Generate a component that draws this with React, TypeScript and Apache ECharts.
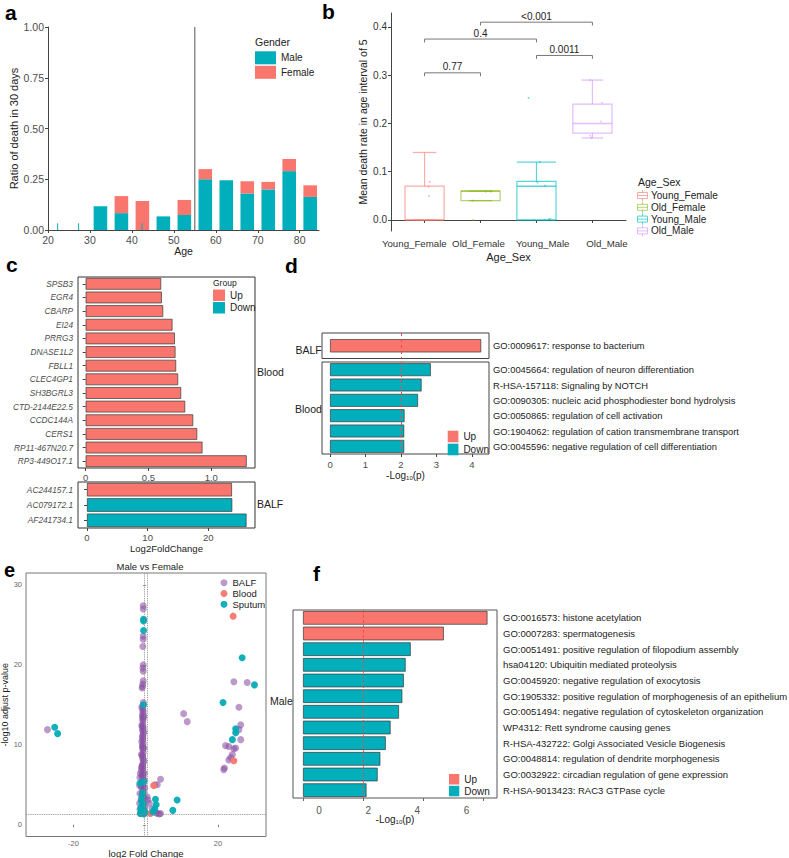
import React, { useEffect, useRef } from 'react';
import * as echarts from 'echarts';

const FONT = '"Liberation Sans", Arial, Helvetica, sans-serif';
const TEAL = '#00AFBB';
const SALMON = '#F8766D';
const AXIS = '#444444';
const TICKTXT = '#4D4D4D';

// ---------------- Panel a ----------------
const ageBins = [32.5, 37.5, 42.5, 47.5, 52.5, 57.5, 62.5, 67.5, 72.5, 77.5, 82.5];
const maleRatio = [0.117, 0.083, 0, 0.067, 0.074, 0.25, 0.245, 0.18, 0.2, 0.29, 0.163];
const femaleRatio = [0, 0.084, 0.143, 0, 0.074, 0.05, 0, 0.06, 0.037, 0.06, 0.057];
const minorAges = [22.3, 27.3, 42.4];
const minorMale = [0.033, 0.033, 0.033];
const ageCut = 55;
const ageTicks = [20, 30, 40, 50, 60, 70, 80];
const ratioTicks = [0, 0.25, 0.5, 0.75, 1];

// ---------------- Panel b ----------------
const ageSexGroups = ['Young_Female', 'Old_Female', 'Young_Male', 'Old_Male'];
const boxMin = [0, 0.04, 0, 0.17];
const boxQ1 = [0, 0.04, 0, 0.18];
const boxMedian = [0, 0.06, 0.07, 0.2];
const boxQ3 = [0.07, 0.06, 0.08, 0.24];
const boxMax = [0.14, 0.06, 0.12, 0.29];
const jitterGroup = [0, 0, 0, 0, 0, 1, 1, 1, 1, 2, 2, 2, 2, 2, 2, 2, 2, 3, 3, 3, 3, 3];
const jitterOffset = [0.09, 0.07, 0.08, -0.11, -0.03, 0.09, 0.18, -0.14, -0.13, 0.06, 0.02, 0.15, -0.05, 0.15, 0.22, 0.25, -0.14, -0.04, 0.17, 0.155, -0.04, -0.02];
const jitterValue = [0.079, 0.069, 0.05, 0, 0, 0.059, 0.059, 0.04, 0, 0.12, 0.078, 0.071, 0, 0, 0.002, 0.002, 0.253, 0.29, 0.243, 0.204, 0.175, 0.17];
const compStart = [1, 1, 3, 2];
const compEnd = [2, 3, 4, 4];
const compY = [0.305, 0.375, 0.341, 0.41];
const compLabel = ['0.77', '0.4', '0.0011', '<0.001'];
const rateTicks = [0, 0.1, 0.2, 0.3, 0.4];
const groupTicks = [1, 2, 3, 4];

// ---------------- Panel c ----------------
const bloodGenes = ['SPSB3', 'EGR4', 'CBARP', 'EI24', 'PRRG3', 'DNASE1L2', 'FBLL1', 'CLEC4GP1', 'SH3BGRL3', 'CTD-2144E22.5', 'CCDC144A', 'CERS1', 'RP11-467N20.7', 'RP3-449O17.1'];
const bloodLog2FC = [0.601, 0.606, 0.617, 0.691, 0.71, 0.715, 0.72, 0.736, 0.76, 0.792, 0.856, 0.888, 0.93, 1.282];
const bloodGeneGroup = ['Up', 'Up', 'Up', 'Up', 'Up', 'Up', 'Up', 'Up', 'Up', 'Up', 'Up', 'Up', 'Up', 'Up'];
const balfGenes = ['AC244157.1', 'AC079172.1', 'AF241734.1'];
const balfLog2FC = [23.9, 23.95, 26.3];
const balfGeneGroup = ['Up', 'Down', 'Down'];
const fcTicksTop = [0, 0.5, 1.0];
const fcTicksBottom = [0, 10, 20];

// ---------------- Panel d ----------------
const dBalfTerms = ['GO:0009617: response to bacterium'];
const dBalfLogP = [4.26];
const dBalfGroup = ['Up'];
const dBloodTerms = [
  'GO:0045664: regulation of neuron differentiation',
  'R-HSA-157118: Signaling by NOTCH',
  'GO:0090305: nucleic acid phosphodiester bond hydrolysis',
  'GO:0050865: regulation of cell activation',
  'GO:1904062: regulation of cation transmembrane transport',
  'GO:0045596: negative regulation of cell differentiation',
];
const dBloodLogP = [2.84, 2.58, 2.48, 2.1, 2.09, 2.09];
const dBloodGroup = ['Down', 'Down', 'Down', 'Down', 'Down', 'Down'];
const dTicks = [0, 1, 2, 3, 4];
const pCutoff = 2;

// ---------------- Panel e ----------------
const balfPoints = [
  [-27.2, 11.9],
  [-0.7, 27.4], [-0.7, 27.0], [-0.7, 23.6], [-0.7, 23.2], [-0.8, 22.3], [-0.7, 20.0], [-0.8, 19.6], [-0.7, 19.2], [-0.7, 18.0], [-0.8, 17.6], [-0.9, 17.3], [-1.0, 17.1],
  [-0.7, 15.3], [-0.8, 14.9], [-0.8, 14.5], [-0.7, 14.1], [-0.9, 13.8], [-0.7, 13.4], [-0.8, 13.0], [-0.8, 12.6], [-0.7, 12.2], [-0.9, 11.8], [-0.7, 11.4], [-0.8, 11.0],
  [-0.8, 10.6], [-0.7, 10.2], [-0.9, 9.8], [-0.8, 9.4], [-0.7, 9.0], [-0.9, 8.6], [-0.8, 8.2], [-0.7, 7.8], [-0.9, 7.4], [-0.8, 7.0], [-1.2, 6.8], [-0.7, 6.6], [-1.5, 6.4],
  [-0.9, 6.2], [-0.8, 5.8], [-1.0, 5.4], [-0.7, 5.0], [-1.2, 4.7], [-0.8, 4.4], [-0.6, 4.1], [-1.0, 3.8], [-0.7, 3.5], [-1.3, 3.2], [-0.8, 2.9], [-0.6, 2.6], [-1.1, 2.3],
  [-0.7, 2.0], [-0.9, 1.7], [-0.6, 1.5], [-1.4, 1.4],
  [-1.1, 14.7], [-0.5, 13.6], [-1.1, 12.4], [-0.5, 11.6], [-1.1, 10.4], [-0.5, 9.6], [-1.2, 8.8], [-0.5, 8.0], [-1.2, 7.2], [-0.4, 6.4],
  [-1.6, 5.9], [-0.4, 5.6], [-1.7, 4.9], [-0.3, 4.6], [-1.6, 3.9], [-0.3, 3.3], [-1.7, 2.7], [-0.2, 2.2], [-1.6, 1.9], [-0.2, 1.5],
  [-0.8, 14.3], [-0.8, 13.2], [-0.8, 12.0], [-0.8, 10.8], [-0.8, 9.6], [-0.8, 8.4], [-0.8, 7.2], [-0.8, 6.0], [-0.8, 4.8], [-0.8, 3.6], [-0.8, 2.4],
  [-0.9, 13.5], [-0.9, 12.3], [-0.9, 11.1], [-0.9, 9.9], [-0.9, 8.7], [-0.9, 7.5], [-0.9, 6.3], [-0.9, 5.1], [-0.9, 3.9], [-0.9, 2.7], [-0.9, 1.6],
  [0.4, 3.5], [0.6, 3.1], [1.0, 2.7], [1.8, 2.0], [2.2, 1.7], [2.9, 1.5], [3.2, 1.4], [3.8, 1.35], [4.1, 1.4], [2.5, 5.0], [3.2, 5.0], [4.1, 5.7],
  [10.5, 13.9], [11.5, 12.9],
  [24.4, 17.9], [28.1, 17.8], [25.8, 14.7], [26.3, 12.5], [25.8, 11.9], [26.3, 10.65], [24.9, 9.6], [24.4, 9.5], [22.1, 9.9], [23.0, 9.8], [24.0, 8.8], [23.5, 8.4],
  [23.0, 8.1], [21.8, 7.1], [21.6, 6.9],
];
const bloodPoints = [[24.2, 26.1], [24.4, 8.0], [2.2, 4.9], [1.3, 1.4]];
const sputumPoints = [
  [-25.2, 12.2], [-24.4, 11.4],
  [-0.6, 25.7], [-0.6, 25.5], [-0.6, 24.3], [-0.6, 15.0], [-1.6, 5.2], [-0.5, 5.4], [-0.8, 4.0], [-1.0, 3.5], [-1.2, 3.0], [-0.7, 2.7], [-1.0, 2.4], [-1.4, 2.1],
  [-0.6, 1.9], [-1.1, 1.7], [-0.8, 1.5], [-0.5, 1.35], [-1.5, 1.4], [-0.2, 1.6],
  [2.7, 3.2], [2.9, 2.5], [2.5, 2.0], [2.0, 1.6], [8.7, 3.1], [7.5, 1.8],
  [26.7, 20.9], [30.1, 17.5], [21.4, 15.3], [24.9, 12.0], [24.9, 11.5], [24.0, 10.65],
];
const fcCut = [-0.5, 0.5];
const padjCut = 1.3;
const eXTicks = [-20, 20];
const eYTicks = [0, 10, 20, 30];

// ---------------- Panel f ----------------
const maleTerms = [
  'GO:0016573: histone acetylation',
  'GO:0007283: spermatogenesis',
  'GO:0051491: positive regulation of filopodium assembly',
  'hsa04120: Ubiquitin mediated proteolysis',
  'GO:0045920: negative regulation of exocytosis',
  'GO:1905332: positive regulation of morphogenesis of an epithelium',
  'GO:0051494: negative regulation of cytoskeleton organization',
  'WP4312: Rett syndrome causing genes',
  'R-HSA-432722: Golgi Associated Vesicle Biogenesis',
  'GO:0048814: regulation of dendrite morphogenesis',
  'GO:0032922: circadian regulation of gene expression',
  'R-HSA-9013423: RAC3 GTPase cycle',
];
const maleLogP = [6.13, 4.68, 3.58, 3.41, 3.35, 3.3, 3.19, 2.91, 2.75, 2.57, 2.48, 2.11];
const maleGroup = ['Up', 'Up', 'Down', 'Down', 'Down', 'Down', 'Down', 'Down', 'Down', 'Down', 'Down', 'Down'];
const fTicks = [0, 2, 4, 6];

// ---------------- helpers ----------------
const boxColors = ['rgba(248,118,109,0.6)', 'rgba(124,174,0,0.55)', 'rgba(0,191,196,0.65)', 'rgba(199,124,255,0.5)'];
const capFrac = [0.6, 0.6, 1.0, 0.55];
const BAR_HALF = 1.62;

const txt = (size: number, color = TICKTXT, extra: any = {}) => ({ fontSize: size, color, fontFamily: FONT, ...extra });
const pick = (vals: number[], groups: string[], g: string) => vals.map((v, i) => (groups[i] === g ? v : '-'));
const logpName = {
  name: '{a|-Log}{b|10}{a|(p)}',
  nameLocation: 'middle',
  nameTextStyle: {
    rich: {
      a: { fontSize: 10, color: '#222', fontFamily: FONT },
      b: { fontSize: 6, color: '#222', fontFamily: FONT, padding: [5, 0, 0, 0] },
    },
  },
};

function label(text: string, x: number, y: number, size: number, opts: any = {}) {
  return {
    type: 'text',
    x,
    y,
    style: {
      text,
      fill: opts.fill || '#222',
      font: `${opts.weight || 'normal'} ${size}px ${FONT}`,
      textAlign: opts.align || 'left',
      textVerticalAlign: 'middle',
      align: opts.align || 'left',
      verticalAlign: 'middle',
    },
    silent: true,
  };
}

function buildOption(): any {
  const gb = { outerBoundsMode: 'none', containLabel: false };
  const grids = [
    { ...gb, left: 48, top: 27, width: 271, height: 203 }, // a
    { ...gb, left: 391, top: 13, width: 235, height: 218 }, // b
    { ...gb, left: 78, top: 277, width: 177, height: 191, show: true, borderColor: '#333', borderWidth: 1 }, // c top
    { ...gb, left: 78, top: 482, width: 177, height: 46, show: true, borderColor: '#333', borderWidth: 1 }, // c bottom
    { ...gb, left: 322, top: 333, width: 167, height: 25.5, show: true, borderColor: '#444', borderWidth: 1 }, // d BALF
    { ...gb, left: 322, top: 362, width: 167, height: 92, show: true, borderColor: '#444', borderWidth: 1 }, // d Blood
    { ...gb, left: 26, top: 573, width: 240, height: 263.5, show: true, borderColor: '#777', borderWidth: 1 }, // e
    { ...gb, left: 293, top: 610, width: 204, height: 188, show: true, borderColor: '#555', borderWidth: 1 }, // f
  ];

  const noSplit = { show: false };
  const xAxis: any[] = [
    {
      gridIndex: 0, type: 'value', min: 20, max: 84.6, splitLine: noSplit,
      axisLine: { show: true, lineStyle: { color: AXIS } },
      axisTick: { show: true, customValues: ageTicks, length: 3, lineStyle: { color: AXIS } },
      axisLabel: { customValues: ageTicks, margin: 4, ...txt(10.5) },
      name: 'Age', nameLocation: 'middle', nameGap: 14, nameTextStyle: txt(10.5, '#222'),
    },
    {
      gridIndex: 1, type: 'value', min: 0.4, max: 4.6, splitLine: noSplit,
      axisLine: { show: true, lineStyle: { color: AXIS } },
      axisTick: { show: true, customValues: groupTicks, length: 3, lineStyle: { color: AXIS } },
      axisLabel: { show: false },
      name: 'Age_Sex', nameLocation: 'middle', nameGap: 20, nameTextStyle: txt(11, '#222'),
    },
    {
      // label track for panel b (labels sit slightly spread relative to the ticks, as in the figure)
      gridIndex: 1, type: 'value', position: 'bottom', min: 0.637, max: 4.297, splitLine: noSplit,
      axisLine: { show: false }, axisTick: { show: false },
      axisLabel: {
        customValues: groupTicks, margin: 7, showMinLabel: true, showMaxLabel: true, hideOverlap: false,
        formatter: (v: number) => ageSexGroups[Math.round(v) - 1] || '', ...txt(9.7, '#333'),
      },
    },
    {
      gridIndex: 2, type: 'value', min: -0.061, max: 1.348, splitLine: noSplit,
      axisLine: { show: false },
      axisTick: { show: true, customValues: fcTicksTop, length: 3, lineStyle: { color: AXIS } },
      axisLabel: { customValues: fcTicksTop, margin: 4, formatter: (v: number) => (v === 0 ? '0' : v.toFixed(1)), ...txt(9.5) },
    },
    {
      gridIndex: 3, type: 'value', min: -1.48, max: 27.7, splitLine: noSplit,
      axisLine: { show: false },
      axisTick: { show: true, customValues: fcTicksBottom, length: 3, lineStyle: { color: AXIS } },
      axisLabel: { customValues: fcTicksBottom, margin: 4, ...txt(9.5) },
      name: 'Log2FoldChange', nameLocation: 'middle', nameGap: 15, nameTextStyle: txt(9.5, '#222'),
    },
    {
      gridIndex: 4, type: 'value', min: -0.226, max: 4.48, splitLine: noSplit,
      axisLine: { show: false }, axisTick: { show: false }, axisLabel: { show: false },
    },
    {
      gridIndex: 5, type: 'value', min: -0.226, max: 4.48, splitLine: noSplit,
      axisLine: { show: false },
      axisTick: { show: true, customValues: dTicks, length: 3, lineStyle: { color: AXIS } },
      axisLabel: { customValues: dTicks, margin: 5, ...txt(9.5) },
      ...logpName, nameGap: 16,
    },
    {
      gridIndex: 6, type: 'value', min: -33.15, max: 33.3, splitLine: noSplit,
      axisLine: { show: false },
      axisTick: { show: true, customValues: eXTicks, length: 2.5, lineStyle: { color: '#777' } },
      axisLabel: { customValues: eXTicks, margin: 3, ...txt(7.5, '#666') },
      name: 'log2 Fold Change', nameLocation: 'middle', nameGap: 10, nameTextStyle: txt(9.5, '#222'),
    },
    {
      gridIndex: 7, type: 'value', position: 'bottom', min: -0.333, max: 6.447, splitLine: noSplit,
      axisLine: { show: false },
      axisTick: { show: true, customValues: fTicks, length: 3, lineStyle: { color: '#666' } },
      axisLabel: { show: false },
      ...logpName, nameGap: 16,
    },
    {
      gridIndex: 7, type: 'value', position: 'bottom', offset: 0, min: -1.06, max: 7.24, splitLine: noSplit,
      axisLine: { show: false }, axisTick: { show: false },
      axisLabel: { customValues: fTicks, margin: 7, ...txt(10, '#555') },
    },
  ];

  const yAxis: any[] = [
    {
      gridIndex: 0, type: 'value', min: 0, max: 1, splitLine: noSplit,
      axisLine: { show: true, lineStyle: { color: AXIS } },
      axisTick: { show: true, customValues: ratioTicks, length: 3, lineStyle: { color: AXIS } },
      axisLabel: { customValues: ratioTicks, margin: 4, formatter: (v: number) => v.toFixed(2), ...txt(10.5) },
      name: 'Ratio of death in 30 days', nameLocation: 'middle', nameGap: 27, nameTextStyle: txt(11, '#222'),
    },
    {
      gridIndex: 1, type: 'value', min: -0.0228, max: 0.429, splitLine: noSplit,
      axisLine: { show: true, lineStyle: { color: AXIS } },
      axisTick: { show: true, customValues: rateTicks, length: 3, lineStyle: { color: AXIS } },
      axisLabel: { customValues: rateTicks, margin: 4, formatter: (v: number) => v.toFixed(1), ...txt(10, '#333') },
      name: 'Mean death rate in age interval of 5', nameLocation: 'middle', nameGap: 23, nameTextStyle: txt(10.5, '#222'),
    },
    {
      gridIndex: 2, type: 'category', inverse: true, data: bloodGenes,
      axisLine: { show: false },
      axisTick: { show: true, alignWithLabel: true, length: 3, lineStyle: { color: AXIS } },
      axisLabel: { margin: 5, interval: 0, ...txt(8.3, TICKTXT, { fontStyle: 'italic' }) },
    },
    {
      gridIndex: 3, type: 'category', inverse: true, data: balfGenes,
      axisLine: { show: false },
      axisTick: { show: true, alignWithLabel: true, length: 3, lineStyle: { color: AXIS } },
      axisLabel: { margin: 5, interval: 0, ...txt(8.3, TICKTXT, { fontStyle: 'italic' }) },
    },
    {
      gridIndex: 4, type: 'category', inverse: true, data: dBalfTerms, position: 'right',
      axisLine: { show: false }, axisTick: { show: false },
      axisLabel: { margin: 4, interval: 0, ...txt(9.4, '#222') },
    },
    {
      gridIndex: 5, type: 'category', inverse: true, data: dBloodTerms, position: 'right',
      axisLine: { show: false }, axisTick: { show: false },
      axisLabel: { margin: 4, interval: 0, ...txt(9.4, '#222') },
    },
    {
      gridIndex: 6, type: 'value', min: -1.47, max: 31.5, splitLine: noSplit,
      axisLine: { show: false },
      axisTick: { show: true, customValues: eYTicks, length: 2.5, lineStyle: { color: '#777' } },
      axisLabel: { customValues: eYTicks, margin: 4, ...txt(7.5, '#666') },
      name: '-log10 adjust p-value', nameLocation: 'middle', nameGap: 15, nameTextStyle: txt(9, '#222'),
    },
    {
      gridIndex: 7, type: 'category', inverse: true, data: maleTerms, position: 'right',
      axisLine: { show: false }, axisTick: { show: false },
      axisLabel: { margin: 6, interval: 0, padding: [6, 0, 0, 0], ...txt(9.5, '#222') },
    },
  ];

  const barBorder = { borderColor: '#3a3a3a', borderWidth: 0.7 };
  const redLine = (axisVal: number) => ({
    silent: true, symbol: 'none', label: { show: false },
    lineStyle: { color: '#E5484D', type: [3, 3], width: 1 },
    data: [{ xAxis: axisVal }],
  });

  const series: any[] = [
    // ---- a ----
    {
      type: 'custom', name: 'Male', xAxisIndex: 0, yAxisIndex: 0, itemStyle: { color: TEAL },
      data: ageBins.map((a, i) => [a, maleRatio[i], femaleRatio[i]]),
      renderItem: (_p: any, api: any) => {
        const x = api.value(0), m = api.value(1);
        if (!(m > 0)) return { type: 'group', children: [] };
        const tl = api.coord([x - BAR_HALF, m]);
        const br = api.coord([x + BAR_HALF, 0]);
        return { type: 'rect', shape: { x: tl[0], y: tl[1], width: br[0] - tl[0], height: br[1] - tl[1] }, style: { fill: TEAL } };
      },
    },
    {
      type: 'custom', name: 'Female', xAxisIndex: 0, yAxisIndex: 0, itemStyle: { color: SALMON },
      data: ageBins.map((a, i) => [a, maleRatio[i], femaleRatio[i]]),
      renderItem: (_p: any, api: any) => {
        const x = api.value(0), m = api.value(1), f = api.value(2);
        if (!(f > 0)) return { type: 'group', children: [] };
        const tl = api.coord([x - BAR_HALF, m + f]);
        const br = api.coord([x + BAR_HALF, m]);
        return { type: 'rect', shape: { x: tl[0], y: tl[1], width: br[0] - tl[0], height: br[1] - tl[1] }, style: { fill: SALMON } };
      },
    },
    {
      type: 'custom', name: 'minorMale', xAxisIndex: 0, yAxisIndex: 0,
      data: minorAges.map((a, i) => [a, minorMale[i]]),
      renderItem: (_p: any, api: any) => {
        const t = api.coord([api.value(0), api.value(1)]);
        const b = api.coord([api.value(0), 0]);
        return { type: 'line', shape: { x1: t[0], y1: t[1], x2: b[0], y2: b[1] }, style: { stroke: TEAL, lineWidth: 1 } };
      },
    },
    {
      type: 'line', xAxisIndex: 0, yAxisIndex: 0, symbol: 'none', silent: true,
      data: [[ageCut, 0], [ageCut, 1]], lineStyle: { color: '#555', width: 1 },
    },
    // ---- b ----
    {
      type: 'custom', xAxisIndex: 1, yAxisIndex: 1,
      data: ageSexGroups.map((_g, i) => [i + 1, boxMin[i], boxQ1[i], boxMedian[i], boxQ3[i], boxMax[i], i]),
      renderItem: (_p: any, api: any) => {
        const x = api.value(0), idx = api.value(6);
        const col = boxColors[idx];
        const half = 0.35, cap = half * capFrac[idx];
        const c = (xx: number, yy: number) => api.coord([xx, yy]);
        const lo = c(x - half, api.value(2));
        const hi = c(x + half, api.value(4));
        const med1 = c(x - half, api.value(3));
        const med2 = c(x + half, api.value(3));
        const mx = c(x, api.value(5));
        const mn = c(x, api.value(1));
        const q3c = c(x, api.value(4));
        const q1c = c(x, api.value(2));
        const capMaxL = c(x - cap, api.value(5)), capMaxR = c(x + cap, api.value(5));
        const capMinL = c(x - cap, api.value(1)), capMinR = c(x + cap, api.value(1));
        const st = { stroke: col, lineWidth: 1.2, fill: null };
        const children: any[] = [
          { type: 'line', shape: { x1: mx[0], y1: mx[1], x2: q3c[0], y2: q3c[1] }, style: st },
          { type: 'line', shape: { x1: mn[0], y1: mn[1], x2: q1c[0], y2: q1c[1] }, style: st },
          { type: 'line', shape: { x1: capMaxL[0], y1: capMaxL[1], x2: capMaxR[0], y2: capMaxR[1] }, style: st },
          { type: 'line', shape: { x1: capMinL[0], y1: capMinL[1], x2: capMinR[0], y2: capMinR[1] }, style: st },
          { type: 'rect', shape: { x: lo[0], y: hi[1], width: hi[0] - lo[0], height: lo[1] - hi[1] }, style: { stroke: col, lineWidth: 1.2, fill: 'rgba(255,255,255,0)' } },
          { type: 'line', shape: { x1: med1[0], y1: med1[1], x2: med2[0], y2: med2[1] }, style: { stroke: col, lineWidth: 1.5 } },
        ];
        return { type: 'group', children };
      },
    },
    {
      type: 'scatter', xAxisIndex: 1, yAxisIndex: 1, symbolSize: 2, silent: true,
      data: jitterValue.map((v, i) => [jitterGroup[i] + 1 + jitterOffset[i], v]),
      itemStyle: { color: (p: any) => boxColors[jitterGroup[p.dataIndex]] },
    },
    {
      type: 'custom', xAxisIndex: 1, yAxisIndex: 1,
      data: compStart.map((s, k) => [s, compEnd[k], compY[k], k]),
      renderItem: (_p: any, api: any) => {
        const x1 = api.value(0), x2 = api.value(1), y = api.value(2), k = api.value(3);
        const a = api.coord([x1, y - 0.007]);
        const b = api.coord([x1, y]);
        const cpt = api.coord([x2, y]);
        const d = api.coord([x2, y - 0.007]);
        return {
          type: 'group',
          children: [
            { type: 'polyline', shape: { points: [a, b, cpt, d] }, style: { stroke: '#777', lineWidth: 1, fill: null } },
            {
              type: 'text', x: (b[0] + cpt[0]) / 2, y: b[1] - 1,
              style: { text: compLabel[k], fill: '#222', font: `10px ${FONT}`, align: 'center', verticalAlign: 'bottom', textAlign: 'center', textVerticalAlign: 'bottom' },
            },
          ],
        };
      },
    },
    // ---- c ----
    {
      type: 'bar', name: 'Up', xAxisIndex: 3, yAxisIndex: 2, barWidth: '86%', barGap: '-100%',
      data: pick(bloodLog2FC, bloodGeneGroup, 'Up'), itemStyle: { color: SALMON, ...barBorder },
    },
    {
      type: 'bar', name: 'Down', xAxisIndex: 3, yAxisIndex: 2, barWidth: '86%', barGap: '-100%',
      data: pick(bloodLog2FC, bloodGeneGroup, 'Down'), itemStyle: { color: TEAL, ...barBorder },
    },
    {
      type: 'bar', name: 'Up', xAxisIndex: 4, yAxisIndex: 3, barWidth: '88%', barGap: '-100%',
      data: pick(balfLog2FC, balfGeneGroup, 'Up'), itemStyle: { color: SALMON, ...barBorder },
    },
    {
      type: 'bar', name: 'Down', xAxisIndex: 4, yAxisIndex: 3, barWidth: '88%', barGap: '-100%',
      data: pick(balfLog2FC, balfGeneGroup, 'Down'), itemStyle: { color: TEAL, ...barBorder },
    },
    // ---- d ----
    {
      type: 'bar', name: 'Up', xAxisIndex: 5, yAxisIndex: 4, barWidth: '52%', barGap: '-100%',
      data: pick(dBalfLogP, dBalfGroup, 'Up'), itemStyle: { color: SALMON, ...barBorder },
      markLine: redLine(pCutoff),
    },
    {
      type: 'bar', name: 'Down', xAxisIndex: 5, yAxisIndex: 4, barWidth: '52%', barGap: '-100%',
      data: pick(dBalfLogP, dBalfGroup, 'Down'), itemStyle: { color: TEAL, ...barBorder },
    },
    {
      type: 'bar', name: 'Up', xAxisIndex: 6, yAxisIndex: 5, barWidth: '84%', barGap: '-100%',
      data: pick(dBloodLogP, dBloodGroup, 'Up'), itemStyle: { color: SALMON, ...barBorder },
    },
    {
      type: 'bar', name: 'Down', xAxisIndex: 6, yAxisIndex: 5, barWidth: '84%', barGap: '-100%',
      data: pick(dBloodLogP, dBloodGroup, 'Down'), itemStyle: { color: TEAL, ...barBorder },
      markLine: redLine(pCutoff),
    },
    // ---- e ----
    {
      type: 'scatter', name: 'BALF', xAxisIndex: 7, yAxisIndex: 6, symbolSize: 7,
      data: balfPoints, itemStyle: { color: '#8A4FA3', opacity: 0.58 },
      markLine: {
        silent: true, symbol: 'none', label: { show: false },
        lineStyle: { color: '#888', type: 'dotted', width: 0.9 },
        data: [{ xAxis: fcCut[0] }, { xAxis: fcCut[1] }, { yAxis: padjCut }],
      },
    },
    {
      type: 'scatter', name: 'Blood', xAxisIndex: 7, yAxisIndex: 6, symbolSize: 7,
      data: bloodPoints, itemStyle: { color: SALMON, opacity: 0.95 },
    },
    {
      type: 'scatter', name: 'Sputum', xAxisIndex: 7, yAxisIndex: 6, symbolSize: 7,
      data: sputumPoints, itemStyle: { color: '#00A9B4', opacity: 0.92 },
    },
    // ---- f ----
    {
      type: 'bar', name: 'Up', xAxisIndex: 8, yAxisIndex: 7, barWidth: '87%', barGap: '-100%',
      data: pick(maleLogP, maleGroup, 'Up'), itemStyle: { color: SALMON, ...barBorder },
    },
    {
      type: 'bar', name: 'Down', xAxisIndex: 8, yAxisIndex: 7, barWidth: '87%', barGap: '-100%',
      data: pick(maleLogP, maleGroup, 'Down'), itemStyle: { color: TEAL, ...barBorder },
      markLine: { ...redLine(pCutoff), lineStyle: { color: '#E5484D', type: [3, 2], width: 0.8 } },
    },
  ];

  const legendBase = { orient: 'vertical', icon: 'rect', padding: 0, selectedMode: false, itemStyle: { borderWidth: 0 } };
  const legend = [
    { ...legendBase, data: ['Male', 'Female'], left: 255, top: 51.3, itemWidth: 21, itemHeight: 13, itemGap: 1.5, textStyle: txt(10, '#222') },
    { ...legendBase, data: ['Up', 'Down'], left: 213, top: 289.5, itemWidth: 12, itemHeight: 11.5, itemGap: 1, textStyle: txt(10, '#222') },
    { ...legendBase, data: ['Up', 'Down'], left: 447.7, top: 430.7, itemWidth: 10.7, itemHeight: 11.6, itemGap: 1.4, textStyle: txt(10, '#222') },
    { ...legendBase, data: ['Up', 'Down'], left: 449, top: 774, itemWidth: 10.3, itemHeight: 10.5, itemGap: 1.3, textStyle: txt(10, '#222') },
    { ...legendBase, icon: 'circle', data: ['BALF', 'Blood', 'Sputum'], left: 220.5, top: 577.7, itemWidth: 7, itemHeight: 7, itemGap: 0.8, textStyle: txt(9.5, '#222', { lineHeight: 8 }) },
  ];

  // legend for panel b (boxplot glyphs)
  const bLegend: any[] = [label('Age_Sex', 638, 181.7, 10.5)];
  ageSexGroups.forEach((g, i) => {
    const yc = 195.5 + i * 11.8;
    const col = boxColors[i];
    bLegend.push(
      { type: 'rect', shape: { x: 637.5, y: yc - 3, width: 10, height: 6 }, style: { stroke: col, fill: 'rgba(255,255,255,0)', lineWidth: 1 }, silent: true },
      { type: 'line', shape: { x1: 637.5, y1: yc, x2: 647.5, y2: yc }, style: { stroke: col, lineWidth: 1 }, silent: true },
      { type: 'line', shape: { x1: 642.5, y1: yc - 5.5, x2: 642.5, y2: yc - 3 }, style: { stroke: col, lineWidth: 1 }, silent: true },
      { type: 'line', shape: { x1: 642.5, y1: yc + 3, x2: 642.5, y2: yc + 5.5 }, style: { stroke: col, lineWidth: 1 }, silent: true },
      label(g, 651, yc, 10),
    );
  });

  const graphic = [
    label('a', 5, 12, 21, { weight: 'bold', fill: '#000' }),
    label('b', 322, 11.5, 21, { weight: 'bold', fill: '#000' }),
    label('c', 6, 264, 21, { weight: 'bold', fill: '#000' }),
    label('d', 285, 265.5, 21, { weight: 'bold', fill: '#000' }),
    label('e', 4, 570, 20, { weight: 'bold', fill: '#000' }),
    label('f', 313, 573, 21, { weight: 'bold', fill: '#000' }),
    label('Gender', 255, 41.7, 10.5),
    label('Group', 213, 282.5, 8.5),
    label('Blood', 257, 372.3, 10.5),
    label('BALF', 257, 504.3, 10.5),
    label('BALF', 295.5, 350, 10.5),
    label('Blood', 295, 409.3, 10.5),
    label('Male', 270, 700.7, 10.5),
    label('Male vs Female', 150, 566.7, 9.5, { align: 'center' }),
    ...bLegend,
  ];

  return {
    animation: false,
    backgroundColor: '#ffffff',
    textStyle: { fontFamily: FONT },
    grid: grids,
    xAxis,
    yAxis,
    legend,
    series,
    graphic,
  };
}

export default function App() {
  const ref = useRef<HTMLDivElement>(null);
  useEffect(() => {
    document.body.style.margin = '0';
    const chart = echarts.init(ref.current as HTMLDivElement, null, { renderer: 'svg' });
    chart.setOption(buildOption());
    return () => chart.dispose();
  }, []);
  return <div ref={ref} style={{ width: 789, height: 858 }} />;
}
